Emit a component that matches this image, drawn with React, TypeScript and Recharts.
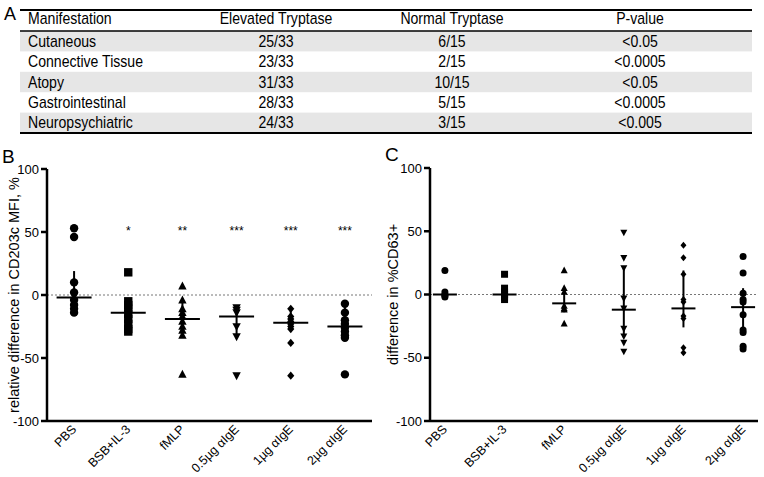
import React from 'react';
import { ScatterChart, Scatter, XAxis, YAxis, ReferenceLine, ErrorBar } from 'recharts';

const FONT = '"Liberation Sans", Arial, Helvetica, sans-serif';

// ---------- Panel A (table) ----------
const tableHeader = ['Manifestation', 'Elevated Tryptase', 'Normal Tryptase', 'P-value'];
const manifestations = ['Cutaneous', 'Connective Tissue', 'Atopy', 'Gastrointestinal', 'Neuropsychiatric'];
const elevatedTryptase = ['25/33', '23/33', '31/33', '28/33', '24/33'];
const normalTryptase = ['6/15', '2/15', '10/15', '5/15', '3/15'];
const pValues = ['<0.05', '<0.0005', '<0.05', '<0.0005', '<0.005'];

// ---------- shared categories ----------
const categories = ['PBS', 'BSB+IL-3', 'fMLP', '0.5µg αIgE', '1µg αIgE', '2µg αIgE'];
const markerTypes = ['circle', 'square', 'triangle', 'triangleDown', 'diamond', 'circle'];
const yTicks = [-100, -50, 0, 50, 100];

// ---------- Panel B ----------
const bPBS = [53, 46, 10, 2, -4, -8, -11, -14];
const bBSB = [18, -5, -8, -11, -15, -19, -23, -27, -29];
const bFMLP = [7, -4, -11, -14, -17, -21, -25, -28, -32, -63];
const bIgE05 = [-10, -12, -14, -25, -33, -64];
const bIgE1 = [-11, -17, -19, -21, -23, -25, -27, -38, -64];
const bIgE2 = [-7, -14, -20, -23, -26, -29, -32, -34, -63];
const bMeans = [-2, -14, -19, -17, -22, -25];
const bErrLow = [-16, -29, -30, -33, -27, -32];
const bErrHigh = [19, -4, -4, -10, -12, -8];
const bStars = ['', '*', '**', '***', '***', '***'];

// ---------- Panel C ----------
const cPBS = [19, 2, 0, -1, -2];
const cBSB = [16, 5, 2, 0, -2, -4];
const cFMLP = [19, 5, 2, -9, -11, -12, -23];
const cIgE05 = [49, 29, 21, -3, -11, -27, -33, -38, -45];
const cIgE1 = [39, 29, 16, -4, -6, -17, -19, -42, -46];
const cIgE2 = [30, 17, 1, -4, -6, -16, -28, -30, -41, -43];
const cMeans = [0, 0, -7, -12, -11, -10];
const cErrLow = [-2, -4, -14, -34, -26, -30];
const cErrHigh = [2, 4, 5, 21, 19, 5];

const bGroups = [bPBS, bBSB, bFMLP, bIgE05, bIgE1, bIgE2];
const cGroups = [cPBS, cBSB, cFMLP, cIgE05, cIgE1, cIgE2];

function Marker({ cx, cy, type, r }: any) {
  if (cx == null || cy == null) return null;
  switch (type) {
    case 'square':
      return <rect x={cx - r} y={cy - r} width={2 * r} height={2 * r} fill="#000" />;
    case 'triangle':
      return <polygon points={`${cx},${cy - r * 1.1} ${cx - r},${cy + r * 0.8} ${cx + r},${cy + r * 0.8}`} fill="#000" />;
    case 'triangleDown':
      return <polygon points={`${cx},${cy + r * 1.1} ${cx - r},${cy - r * 0.8} ${cx + r},${cy - r * 0.8}`} fill="#000" />;
    case 'diamond':
      return <polygon points={`${cx},${cy - r} ${cx + r * 0.85},${cy} ${cx},${cy + r} ${cx - r * 0.85},${cy}`} fill="#000" />;
    default:
      return <circle cx={cx} cy={cy} r={r} fill="#000" />;
  }
}

const XTick = ({ x, y, payload }: any) => (
  <text
    x={0}
    y={0}
    transform={`translate(${x + 3},${y + 1}) rotate(-45)`}
    textAnchor="end"
    fontSize={12.5}
    fontFamily={FONT}
    fill="#000"
  >
    {categories[payload.value - 1]}
  </text>
);

function DotPanel({ groups, means, errLow, errHigh, stars, width, height, margin, yAxisWidth, domainX, yLabel, labelDx, r, meanWidth }: any) {
  const meanData = means.map((m: number, i: number) => ({ x: i + 1, y: m, err: [m - errLow[i], errHigh[i] - m] }));
  const starData = stars
    .map((s: string, i: number) => ({ x: i + 1, y: 50, s }))
    .filter((d: any) => d.s);
  return (
    <ScatterChart width={width} height={height} margin={margin} style={{ overflow: 'visible' }}>
      <XAxis
        type="number"
        dataKey="x"
        domain={domainX}
        ticks={[1, 2, 3, 4, 5, 6]}
        interval={0}
        tick={<XTick />}
        tickLine={false}
        axisLine={{ stroke: '#000', strokeWidth: 2.5 }}
        height={56}
        allowDataOverflow
      />
      <YAxis
        type="number"
        dataKey="y"
        domain={[-100, 100]}
        ticks={yTicks}
        interval={0}
        width={yAxisWidth}
        tickSize={6}
        tickLine={{ stroke: '#000', strokeWidth: 2.5 }}
        axisLine={{ stroke: '#000', strokeWidth: 2.5 }}
        tick={{ fill: '#000', fontSize: 13, fontFamily: FONT }}
        label={{ value: yLabel, angle: -90, position: 'center', dx: labelDx, fill: '#000', fontSize: 14.5, fontFamily: FONT }}
      />
      <ReferenceLine y={0} stroke="#777" strokeWidth={1} strokeDasharray="2 2" ifOverflow="extendDomain" />
      {groups.map((vals: number[], i: number) => (
        <Scatter
          key={i}
          data={vals.map((v) => ({ x: i + 1, y: v }))}
          isAnimationActive={false}
          shape={(p: any) => <Marker cx={p.cx} cy={p.cy} type={markerTypes[i]} r={r} />}
        />
      ))}
      <Scatter
        data={meanData}
        isAnimationActive={false}
        shape={(p: any) => (
          <line x1={p.cx - meanWidth / 2} x2={p.cx + meanWidth / 2} y1={p.cy} y2={p.cy} stroke="#000" strokeWidth={2} />
        )}
      >
        <ErrorBar dataKey="err" direction="y" width={0} stroke="#000" strokeWidth={2} />
      </Scatter>
      {starData.length > 0 && (
        <Scatter
          data={starData}
          isAnimationActive={false}
          shape={(p: any) => (
            <text x={p.cx} y={p.cy + 3} textAnchor="middle" fontSize={12} fontFamily={FONT} fill="#000">
              {p.payload.s}
            </text>
          )}
        />
      )}
    </ScatterChart>
  );
}

function TableA() {
  const colX = [28, 276, 452, 640];
  const rowH = 20.4;
  const top = 31;
  const sx = 0.88;
  const cell = (txt: string, x: number, y: number, j: number, key: string) => (
    <text
      key={key}
      x={0}
      y={0}
      transform={`translate(${x},${y}) scale(${sx},1)`}
      fontSize={16}
      fontFamily={FONT}
      fill="#000"
      textAnchor={j === 0 ? 'start' : 'middle'}
    >
      {txt}
    </text>
  );
  return (
    <svg width={764} height={140} style={{ position: 'absolute', left: 0, top: 0 }}>
      <text x={4} y={20} fontSize={18} fontFamily={FONT} fill="#000">A</text>
      {manifestations.map((_, i) =>
        i % 2 === 0 ? <rect key={i} x={20} y={top + i * rowH} width={732} height={rowH} fill="#e6e6e6" /> : null
      )}
      <line x1={20} x2={752} y1={10} y2={10} stroke="#000" strokeWidth={2} />
      <line x1={20} x2={752} y1={31} y2={31} stroke="#000" strokeWidth={1.5} />
      <line x1={20} x2={752} y1={133} y2={133} stroke="#000" strokeWidth={2} />
      {tableHeader.map((h, j) => cell(h, colX[j], 24, j, `h${j}`))}
      {manifestations.map((m, i) => {
        const y = top + i * rowH + rowH / 2 + 5.6;
        const cells = [m, elevatedTryptase[i], normalTryptase[i], pValues[i]];
        return cells.map((c, j) => cell(c, colX[j], y, j, `${i}-${j}`));
      })}
    </svg>
  );
}

export default function App() {
  return (
    <div style={{ position: 'absolute', left: 0, top: 0, width: 764, height: 477, background: '#fff', overflow: 'hidden', fontFamily: FONT }}>
      <TableA />
      <div style={{ position: 'absolute', left: 0, top: 140 }}>
        <DotPanel
          groups={bGroups}
          means={bMeans}
          errLow={bErrLow}
          errHigh={bErrHigh}
          stars={bStars}
          width={380}
          height={337}
          margin={{ top: 29, right: 8, bottom: 0, left: 0 }}
          yAxisWidth={47}
          domainX={[0.5, 6.5]}
          yLabel="relative difference in CD203c MFI, %"
          labelDx={-10}
          r={4.2}
          meanWidth={35}
        />
      </div>
      <div style={{ position: 'absolute', left: 380, top: 140 }}>
        <DotPanel
          groups={cGroups}
          means={cMeans}
          errLow={cErrLow}
          errHigh={cErrHigh}
          stars={['', '', '', '', '', '']}
          width={384}
          height={337}
          margin={{ top: 28, right: 6, bottom: 0, left: 0 }}
          yAxisWidth={50}
          domainX={[0.75, 6.25]}
          yLabel="difference in %CD63+"
          labelDx={-12}
          r={3.5}
          meanWidth={24}
        />
      </div>
      <svg width={764} height={477} style={{ position: 'absolute', left: 0, top: 0, pointerEvents: 'none' }}>
        <text x={2} y={163} fontSize={19} fontFamily={FONT} fill="#000">B</text>
        <text x={385} y={161} fontSize={19} fontFamily={FONT} fill="#000">C</text>
      </svg>
    </div>
  );
}
